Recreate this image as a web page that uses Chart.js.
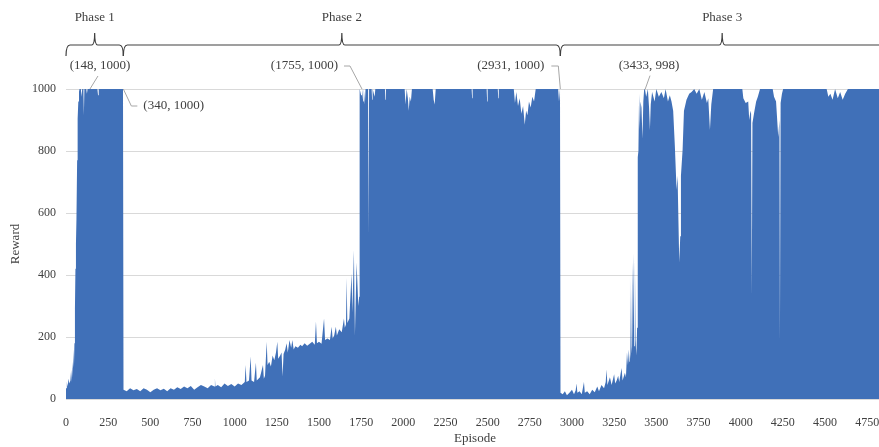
<!DOCTYPE html>
<html>
<head>
<meta charset="utf-8">
<title>Reward per episode</title>
<script src="https://cdn.jsdelivr.net/npm/chart.js@4.4.1/dist/chart.umd.min.js"></script>
<style>
  html, body { margin: 0; padding: 0; background: #fff; overflow: hidden; }
  #wrap { width: 900px; height: 447px; }
</style>
</head>
<body>
<div id="wrap"><canvas id="rewardChart"></canvas></div>
<script>
// ---- data (episode -> reward) ----
// phase 1 : fast climb, then flat at 1000
const seg1Episodes = [0, 5, 10, 15, 20, 26, 30, 33, 37, 40,
  44, 47, 50, 53, 56, 59, 62, 66, 69, 73,
  77, 80, 88, 92, 96, 103, 106, 109, 120, 124,
  128, 150, 186, 190, 194, 250, 338];
const seg1Rewards = [35, 55, 40, 65, 50, 60, 90, 55, 120, 70,
  160, 100, 180, 290, 420, 500, 580, 770, 905, 960,
  990, 1000, 1000, 975, 1000, 1000, 915, 1000, 1000, 985,
  1000, 1000, 1000, 980, 1000, 1000, 1000];

// phase 2 : collapse and slow recovery
const seg2Episodes = [341, 360, 380, 400, 420, 440, 460, 480, 500, 520,
  540, 560, 580, 600, 620, 640, 660, 680, 700, 720,
  740, 760, 780, 800, 820, 840, 860, 880, 883, 886,
  900, 920, 940, 960, 980, 1000, 1020, 1040, 1060, 1065,
  1070, 1085, 1095, 1100, 1115, 1126, 1131, 1150, 1168, 1173,
  1180, 1190, 1195, 1205, 1215, 1225, 1235, 1245, 1253, 1258,
  1270, 1278, 1284, 1290, 1300, 1308, 1315, 1325, 1335, 1342,
  1350, 1360, 1375, 1390, 1400, 1415, 1430, 1445, 1460, 1475,
  1482, 1488, 1500, 1515, 1530, 1536, 1550, 1565, 1575, 1581,
  1590, 1600, 1606, 1620, 1635, 1648, 1653, 1660, 1664, 1668,
  1680, 1693, 1698, 1707, 1713, 1723, 1733, 1738];
const seg2Rewards = [30, 25, 35, 28, 32, 25, 35, 30, 22, 30,
  35, 28, 33, 25, 35, 30, 38, 32, 40, 35,
  42, 30, 38, 45, 40, 35, 45, 40, 65, 40,
  45, 38, 50, 42, 48, 40, 50, 45, 55, 110,
  55, 60, 137, 60, 55, 117, 60, 70, 110, 65,
  75, 185, 110, 120, 105, 140, 125, 150, 185, 130,
  140, 150, 73, 145, 160, 180, 150, 190, 165, 190,
  160, 170, 165, 175, 170, 180, 172, 178, 185, 175,
  250, 180, 185, 178, 260, 190, 195, 190, 233, 195,
  205, 233, 205, 225, 215, 260, 230, 240, 390, 245,
  260, 405, 280, 480, 205, 440, 300, 330];

// phase 2 : at the ceiling
const seg3Episodes = [1741, 1750, 1755, 1762, 1766, 1772, 1776, 1791, 1794, 1797,
  1812, 1815, 1818, 1830, 1834, 1891, 1894, 1897, 2008, 2013,
  2020, 2027, 2032, 2038, 2045, 2051, 2174, 2180, 2186, 2192,
  2405, 2408, 2411, 2494, 2497, 2500, 2560, 2563, 2566, 2655,
  2662, 2670, 2680, 2690, 2700, 2710, 2720, 2728, 2736, 2745,
  2755, 2765, 2775, 2785, 2918, 2923, 2929];
const seg3Rewards = [1000, 980, 1000, 960, 1000, 950, 1000, 1000, 530, 1000,
  1000, 965, 1000, 975, 1000, 1000, 965, 1000, 1000, 950,
  1000, 970, 930, 975, 960, 1000, 1000, 965, 950, 1000,
  1000, 970, 1000, 1000, 960, 1000, 1000, 970, 1000, 1000,
  955, 990, 945, 970, 920, 945, 885, 930, 915, 960,
  940, 975, 960, 1000, 1000, 960, 1000];

// phase 3 : second collapse
const seg4Episodes = [2932, 2945, 2958, 2970, 2985, 3000, 3012, 3022, 3027, 3032,
  3045, 3058, 3071, 3076, 3090, 3105, 3120, 3135, 3150, 3160,
  3175, 3190, 3200, 3205, 3210, 3225, 3235, 3250, 3256, 3265,
  3274, 3280, 3294, 3300, 3314, 3320, 3326, 3332, 3337, 3341,
  3344, 3348, 3353, 3357, 3361, 3365, 3369, 3373, 3377, 3382,
  3386, 3390, 3394, 3398, 3402, 3406, 3412, 3418, 3423, 3428];
const seg4Rewards = [20, 15, 25, 12, 20, 30, 15, 28, 50, 20,
  25, 15, 55, 20, 25, 15, 30, 22, 40, 25,
  45, 35, 55, 95, 45, 70, 45, 80, 50, 60,
  75, 55, 100, 60, 85, 70, 150, 110, 160, 120,
  390, 130, 170, 440, 160, 470, 170, 450, 190, 140,
  230, 780, 800, 985, 870, 960, 940, 840, 960, 1000];

// phase 3 : back at the ceiling, with deep drops
const seg5Episodes = [3433, 3440, 3450, 3457, 3462, 3467, 3475, 3490, 3500, 3515,
  3530, 3545, 3555, 3569, 3580, 3590, 3600, 3610, 3620, 3626,
  3636, 3642, 3646, 3656, 3664, 3679, 3695, 3709, 3725, 3739,
  3755, 3770, 3785, 3800, 3808, 3818, 3826, 3837, 4010, 4016,
  4030, 4045, 4051, 4058, 4062, 4066, 4070, 4082, 4092, 4102,
  4115, 4190, 4198, 4210, 4223, 4230, 4233, 4237, 4245, 4252,
  4510, 4520, 4532, 4545, 4560, 4576, 4590, 4605, 4620, 4636,
  4850];
const seg5Rewards = [998, 975, 1000, 940, 868, 950, 990, 960, 1000, 975,
  990, 970, 1000, 960, 980, 960, 930, 815, 675, 720,
  440, 525, 720, 805, 930, 965, 985, 990, 1000, 985,
  1000, 965, 990, 955, 970, 868, 950, 1000, 1000, 970,
  955, 960, 900, 930, 920, 330, 890, 930, 960, 975,
  1000, 1000, 975, 960, 845, 900, 180, 955, 985, 1000,
  1000, 975, 985, 965, 1000, 970, 990, 965, 985, 1000,
  1000];

const episodes = [].concat(seg1Episodes, seg2Episodes, seg3Episodes, seg4Episodes, seg5Episodes);
const rewards = [].concat(seg1Rewards, seg2Rewards, seg3Rewards, seg4Rewards, seg5Rewards);

const phaseNames = ['Phase 1', 'Phase 2', 'Phase 3'];
const phaseBounds = [0, 340, 2931, 4850];
const markedPoints = [[148, 1000], [340, 1000], [1755, 1000], [2931, 1000], [3433, 998]];

const BLUE = '#4070b8';
const TEXT = '#404040';
const SERIF = "'Liberation Serif', 'DejaVu Serif', serif";

// ---- top decorations: phase braces + point call-outs ----
// label offsets from the marked point (pixels), kept out of the data
const calloutLayout = [
  { dx: 9, dy: -23, align: 'center', leader: [[7, -13], [-1, 0]] },
  { dx: 20, dy: 17, align: 'left', leader: [[0, 0], [8, 17], [14, 17]] },
  { dx: -24, dy: -23, align: 'right', leader: [[-18, -23], [-12, -23], [0, 0]] },
  { dx: -16, dy: -23, align: 'right', leader: [[-9, -23], [-2, -23], [0, 0]] },
  { dx: 4, dy: -24, align: 'center', leader: [[5, -14], [0, 0]] }
];

const phasePlugin = {
  id: 'phaseBraces',
  afterDraw(chart) {
    const { ctx, scales: { x, y } } = chart;
    ctx.save();

    // braces
    const by = 45;
    ctx.strokeStyle = TEXT;
    ctx.lineWidth = 1.2;
    ctx.font = '13px ' + SERIF;
    ctx.fillStyle = TEXT;
    ctx.textAlign = 'center';
    ctx.textBaseline = 'middle';
    for (let i = 0; i < phaseNames.length; i++) {
      const a = x.getPixelForValue(phaseBounds[i]);
      const b = x.getPixelForValue(phaseBounds[i + 1]);
      const m = (a + b) / 2;
      ctx.beginPath();
      ctx.moveTo(a, by + 11);
      ctx.quadraticCurveTo(a, by, a + 4, by);
      ctx.lineTo(m - 3, by);
      ctx.quadraticCurveTo(m, by, m, by - 12);
      ctx.quadraticCurveTo(m, by, m + 3, by);
      ctx.lineTo(b - 4, by);
      ctx.quadraticCurveTo(b, by, b, by + 11);
      ctx.stroke();
      ctx.fillText(phaseNames[i], m, 18);
    }

    // call-outs
    markedPoints.forEach((p, i) => {
      const lay = calloutLayout[i];
      const px = x.getPixelForValue(p[0]);
      const py = y.getPixelForValue(p[1]);
      ctx.strokeStyle = '#a6a6a6';
      ctx.lineWidth = 1;
      ctx.beginPath();
      lay.leader.forEach((pt, k) => {
        if (k === 0) ctx.moveTo(px + pt[0], py + pt[1]);
        else ctx.lineTo(px + pt[0], py + pt[1]);
      });
      ctx.stroke();
      ctx.textAlign = lay.align;
      ctx.fillStyle = TEXT;
      ctx.fillText('(' + p[0] + ', ' + p[1] + ')', px + lay.dx, py + lay.dy);
    });
    ctx.restore();
  }
};

const ctx = document.getElementById('rewardChart').getContext('2d');
new Chart(ctx, {
  type: 'line',
  data: {
    datasets: [{
      data: episodes.map((e, i) => ({ x: e, y: rewards[i] })),
      fill: 'origin',
      backgroundColor: BLUE,
      borderColor: 'rgba(0,0,0,0)',
      borderWidth: 0,
      pointRadius: 0,
      tension: 0
    }]
  },
  options: {
    responsive: true,
    maintainAspectRatio: false,
    animation: false,
    layout: { padding: { top: 89, right: 16, left: 0, bottom: 0 } },
    plugins: {
      legend: { display: false },
      tooltip: { enabled: false }
    },
    scales: {
      x: {
        type: 'linear',
        min: 0,
        max: 4850,
        grid: { display: false },
        border: { display: false },
        ticks: {
          stepSize: 250,
          includeBounds: false,
          autoSkip: false,
          maxRotation: 0,
          padding: 9,
          color: TEXT,
          font: { family: SERIF, size: 12 },
          callback: v => String(v)
        },
        title: {
          display: true,
          text: 'Episode',
          color: TEXT,
          font: { family: SERIF, size: 13 },
          padding: { top: 0, bottom: 1 }
        },
        afterFit: s => { s.height = 48; }
      },
      y: {
        min: 0,
        max: 1000,
        grid: { color: '#d9d9d9', drawTicks: false },
        border: { display: false },
        ticks: {
          stepSize: 200,
          padding: 10,
          color: TEXT,
          font: { family: SERIF, size: 12 },
          callback: v => String(v)
        },
        title: {
          display: true,
          text: 'Reward',
          color: TEXT,
          font: { family: SERIF, size: 13 },
          padding: { top: 8, bottom: 0 }
        },
        afterFit: s => { s.width = 66; }
      }
    }
  },
  plugins: [phasePlugin]
});
</script>
</body>
</html>
